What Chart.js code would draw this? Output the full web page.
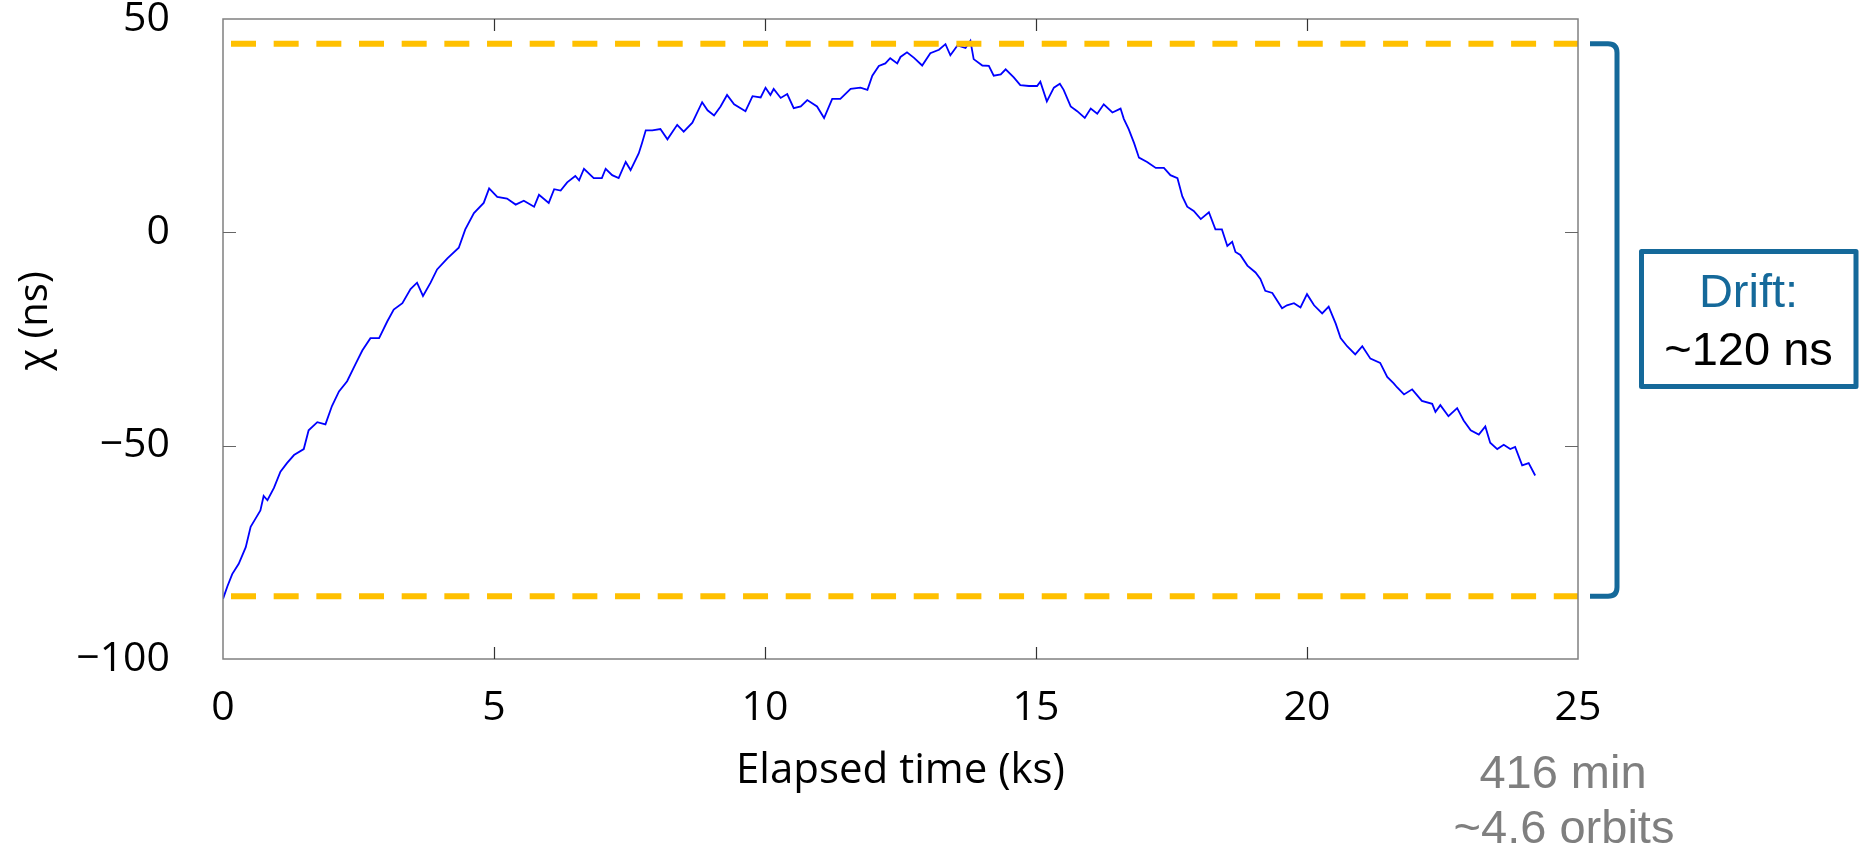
<!DOCTYPE html>
<html><head><meta charset="utf-8">
<script src="https://cdn.jsdelivr.net/npm/chart.js@4.4.1/dist/chart.umd.min.js"></script>
<style>html,body{margin:0;padding:0;background:#fff;}#wrap{width:1864px;height:847px;position:relative;}</style>
</head><body><div id="wrap"><canvas id="c" width="1864" height="847"></canvas></div>
<script>
// ---- data ----
const timeKs = [0.00,0.08,0.17,0.29,0.42,0.51,0.60,0.69,0.75,0.82,0.94,1.06,1.18,1.31,1.49,1.58,1.74,1.89,2.01,2.14,2.29,2.44,2.57,2.72,2.88,3.03,3.15,3.31,3.46,3.58,3.69,3.83,3.95,4.14,4.35,4.47,4.63,4.81,4.91,5.06,5.24,5.40,5.55,5.74,5.83,6.01,6.11,6.23,6.35,6.50,6.57,6.66,6.84,6.99,7.06,7.18,7.30,7.43,7.52,7.67,7.73,7.80,7.92,8.07,8.20,8.38,8.50,8.66,8.84,8.94,9.06,9.18,9.30,9.43,9.64,9.77,9.92,10.01,10.10,10.16,10.29,10.41,10.53,10.66,10.78,10.96,11.09,11.24,11.39,11.58,11.76,11.89,11.98,12.10,12.22,12.31,12.44,12.50,12.62,12.75,12.90,13.05,13.21,13.33,13.42,13.55,13.70,13.79,13.85,14.01,14.13,14.22,14.35,14.44,14.59,14.71,14.87,15.02,15.08,15.20,15.33,15.44,15.51,15.64,15.76,15.90,16.01,16.13,16.25,16.41,16.56,16.62,16.71,16.81,16.90,17.05,17.21,17.36,17.48,17.61,17.70,17.79,17.91,18.04,18.19,18.31,18.43,18.53,18.62,18.68,18.77,18.90,19.05,19.14,19.23,19.36,19.54,19.63,19.76,19.88,20.00,20.13,20.28,20.40,20.53,20.62,20.74,20.89,21.02,21.17,21.35,21.48,21.60,21.66,21.79,21.94,22.12,22.31,22.37,22.46,22.61,22.77,22.89,23.02,23.17,23.29,23.38,23.51,23.63,23.75,23.84,23.97,24.09,24.21];
const chiNs = [-85.9,-83.0,-80.1,-77.7,-73.8,-69.0,-67.1,-65.2,-61.8,-62.8,-59.9,-56.1,-54.1,-52.2,-50.8,-46.4,-44.5,-45.0,-40.7,-37.3,-34.9,-31.0,-27.7,-24.8,-24.8,-20.9,-18.1,-16.6,-13.3,-11.8,-14.9,-11.8,-8.7,-6.1,-3.6,0.7,4.5,6.9,10.3,8.3,7.9,6.5,7.4,6.0,8.8,6.9,10.1,9.8,11.7,13.2,12.2,14.9,12.7,12.7,14.9,13.4,12.7,16.5,14.6,18.5,20.9,23.9,23.9,24.2,21.8,25.2,23.6,25.7,30.5,28.6,27.4,29.5,32.2,30.0,28.4,31.9,31.6,33.9,32.2,33.6,31.5,32.4,29.1,29.5,31.0,29.5,26.8,31.3,31.3,33.6,33.9,33.4,36.7,39.0,39.6,40.8,39.6,41.1,42.2,40.9,39.1,42.0,42.8,44.1,41.5,43.8,43.2,44.9,40.6,39.1,39.0,36.7,37.0,38.2,36.3,34.5,34.3,34.3,35.3,30.7,33.9,34.8,33.4,29.5,28.4,26.8,29.0,27.8,30.0,28.1,29.0,26.6,24.2,20.9,17.5,16.5,15.1,15.1,13.4,12.7,8.4,6.0,5.0,3.1,4.7,0.7,0.7,-3.2,-2.2,-4.6,-5.3,-7.8,-9.4,-10.9,-13.7,-14.2,-17.8,-17.1,-16.6,-17.6,-14.5,-17.1,-19.0,-17.4,-21.4,-24.8,-26.7,-28.6,-26.7,-29.6,-30.6,-33.9,-35.4,-36.3,-38.0,-36.8,-39.5,-40.2,-42.1,-40.5,-43.1,-41.2,-44.1,-46.4,-47.4,-45.5,-49.3,-50.8,-49.8,-50.8,-50.3,-54.6,-54.1,-57.0];
const driftTop = 44.2;      // upper dashed level (ns)
const driftBottom = -85.3;  // lower dashed level (ns)
const xRange = [0, 25];
const yRange = [-100, 50];
const xInnerTicks = [5, 10, 15, 20];
const yInnerTicks = [-50, 0];
const yTitle = '\u03c7 (ns)';
const driftLabel = 'Drift:';
const driftValue = '~120 ns';
const durationLines = ['416 min', '~4.6 orbits'];

const BLUE = '#15699A';
const AX_FONT = '"Open Sans", "Noto Sans", sans-serif';
const ARIAL = '"Liberation Sans", Arial, sans-serif';

const curve = timeKs.map((t, i) => ({x: t, y: chiNs[i]}));
const topLine = xRange.map(x => ({x, y: driftTop}));
const botLine = xRange.map(x => ({x, y: driftBottom}));

const deco = {
  id: 'deco',
  beforeDraw(chart) {
    const c = chart.ctx;
    c.save(); c.fillStyle = '#fff'; c.fillRect(0, 0, chart.width, chart.height); c.restore();
  },
  afterDraw(chart) {
    const c = chart.ctx, a = chart.chartArea;
    const xs = chart.scales.x, ys = chart.scales.y;
    c.save();
    // frame
    c.strokeStyle = '#808080'; c.lineWidth = 1.5;
    c.strokeRect(a.left, a.top, a.right - a.left, a.bottom - a.top);
    // inward tick marks
    c.strokeStyle = '#333'; c.lineWidth = 1.2;
    c.beginPath();
    xInnerTicks.forEach(v => {
      const px = Math.round(xs.getPixelForValue(v)) + 0.5;
      c.moveTo(px, a.top); c.lineTo(px, a.top + 12);
      c.moveTo(px, a.bottom); c.lineTo(px, a.bottom - 12);
    });
    c.stroke();
    c.strokeStyle = '#666';
    c.beginPath();
    yInnerTicks.forEach(v => {
      const py = Math.round(ys.getPixelForValue(v)) + 0.5;
      c.moveTo(a.left, py); c.lineTo(a.left + 13, py);
      c.moveTo(a.right, py); c.lineTo(a.right - 13, py);
    });
    c.stroke();
    // y-axis title (placed as in the reference, slightly above centre)
    c.save();
    c.translate(36, 321); c.rotate(-Math.PI / 2);
    c.font = '40px ' + AX_FONT; c.fillStyle = '#000';
    c.textAlign = 'center'; c.textBaseline = 'middle';
    c.fillText(yTitle, 0, 0);
    c.restore();
    // bracket spanning the drift
    const yT = ys.getPixelForValue(driftTop), yB = ys.getPixelForValue(driftBottom);
    const bx = a.right + 39, bl = a.right + 12;
    c.strokeStyle = BLUE; c.lineWidth = 5; c.lineCap = 'butt'; c.lineJoin = 'round';
    c.beginPath();
    c.moveTo(bl, yT); c.lineTo(bx - 9, yT); c.quadraticCurveTo(bx, yT, bx, yT + 9);
    c.lineTo(bx, yB - 9); c.quadraticCurveTo(bx, yB, bx - 9, yB); c.lineTo(bl, yB);
    c.stroke();
    // drift box
    c.lineWidth = 5;
    c.strokeRect(1641.5, 251.5, 214.5, 135);
    c.textAlign = 'center'; c.textBaseline = 'alphabetic';
    c.font = '47px ' + ARIAL;
    c.fillStyle = BLUE; c.fillText(driftLabel, 1748.5, 307);
    c.fillStyle = '#000'; c.fillText(driftValue, 1748.5, 365);
    // duration note under the x axis end
    c.fillStyle = '#7F7F7F';
    c.fillText(durationLines[0], 1563, 788);
    c.fillText(durationLines[1], 1564, 843);
    c.restore();
  }
};

function build() {
  new Chart(document.getElementById('c'), {
    type: 'line',
    data: {
      datasets: [
        {data: topLine, borderColor: '#FFC000', borderWidth: 6, borderDash: [25, 17.67], borderDashOffset: 34.67, borderCapStyle: 'butt', pointRadius: 0, order: 0},
        {data: botLine, borderColor: '#FFC000', borderWidth: 6, borderDash: [25, 17.67], borderDashOffset: 34.67, borderCapStyle: 'butt', pointRadius: 0, order: 0},
        {data: curve, borderColor: '#0000FF', borderWidth: 1.8, pointRadius: 0, tension: 0, order: 1}
      ]
    },
    options: {
      responsive: false,
      animation: false,
      events: [],
      layout: {padding: {left: 0, top: 19, right: 286, bottom: 51}},
      plugins: {legend: {display: false}, tooltip: {enabled: false}},
      scales: {
        x: {
          type: 'linear', min: xRange[0], max: xRange[1],
          grid: {display: false, drawTicks: false},
          border: {display: false},
          ticks: {stepSize: 5, padding: 25, color: '#000', font: {family: AX_FONT, size: 41}, maxRotation: 0},
          title: {display: true, text: 'Elapsed time (ks)', color: '#000', font: {family: AX_FONT, size: 42}, padding: {top: 0, bottom: 0}},
          afterFit(s) { s.height = 137; s.paddingLeft = 0; s.paddingRight = 0; }
        },
        y: {
          type: 'linear', min: yRange[0], max: yRange[1],
          grid: {display: false, drawTicks: false},
          border: {display: false},
          ticks: {stepSize: 50, padding: 53, color: '#000', font: {family: AX_FONT, size: 41},
                  callback: v => (v < 0 ? '\u2212' + Math.abs(v) : String(v))},
          title: {display: false},
          afterFit(s) { s.width = 223; s.paddingTop = 0; s.paddingBottom = 0; }
        }
      }
    },
    plugins: [deco]
  });
}
const fontsReady = document.fonts ? Promise.all([
  document.fonts.load('41px "Open Sans"'),
  document.fonts.load('47px "Liberation Sans"')
]).catch(() => {}) : Promise.resolve();
fontsReady.then(build, build);
</script>
</body></html>
